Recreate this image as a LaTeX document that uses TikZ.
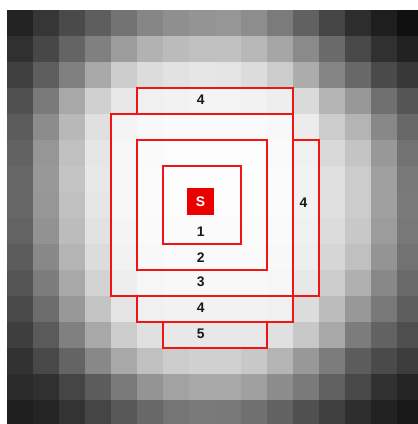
\documentclass[tikz,border=0pt]{standalone}
\usepackage{fontspec}
\setmainfont{Liberation Sans}
\usepackage{tikz}
\usetikzlibrary{positioning}
\definecolor{ringred}{RGB}{240,20,20}
\definecolor{seedred}{RGB}{235,0,0}

\begin{document}
\begin{tikzpicture}[x=0.5cm, y=-0.5cm,
  ring/.style={draw=ringred, line width=0.6pt},
  lbl/.style={font=\fontsize{7.6}{9}\selectfont\bfseries, text=black!90, inner sep=0pt}
]
  \useasboundingbox (-0.269,-0.385) rectangle (15.808,15.923);
  \clip (-0.269,-0.385) rectangle (15.808,15.923);
  %% gray cells, one row of values per list
  \foreach \row [count=\j from 0] in {
    {35,54,74,94,115,134,143,148,150,141,123,97,69,45,30,16},
    {48,71,100,128,156,178,187,192,193,184,166,138,106,72,48,34},
    {64,94,128,168,204,220,226,230,228,220,204,172,132,104,74,56},
    {80,122,168,208,232,240,242,244,244,242,238,218,180,152,112,85},
    {92,140,184,224,244,248,250,250,250,250,248,236,204,180,136,104},
    {98,150,192,230,246,250,252,252,252,252,250,240,216,196,152,114},
    {102,152,196,232,247,251,252,252,252,252,251,242,224,204,160,120},
    {102,150,192,230,246,251,252,252,252,252,251,242,224,204,160,122},
    {99,146,188,226,244,250,251,251,251,251,250,240,220,200,156,120},
    {92,136,180,220,242,248,250,250,250,250,248,238,214,192,148,114},
    {84,124,168,210,238,246,248,248,248,248,246,232,204,176,136,106},
    {74,108,152,196,228,240,242,242,242,242,240,220,188,152,120,94},
    {62,90,128,168,204,224,232,232,232,232,224,200,168,124,98,78},
    {50,72,100,136,168,192,204,208,208,200,180,152,124,92,74,60},
    {42,48,69,92,122,148,162,168,168,160,140,122,96,72,48,37},
    {30,36,51,69,88,104,117,122,120,112,98,80,64,46,34,24}} {
    \foreach \v [count=\i from 0] in \row {
      \definecolor{cellgray}{RGB}{\v,\v,\v}
      \fill[cellgray] (\i,\j) rectangle ++(1,1);
    }
  }
  %% search rings
  \draw[ring] (5,3) rectangle (11,4);
  \draw[ring] (4,4) rectangle (11,11);
  \draw[ring] (11,5) rectangle (12,11);
  \draw[ring] (5,5) rectangle (10,10);
  \draw[ring] (6,6) rectangle (9,9);
  \draw[ring] (5,11) rectangle (11,12);
  \draw[ring] (6,12) rectangle (10,13);
  %% seed cell
  \node[fill=seedred, minimum size=0.52cm, inner sep=0pt, text=white,
        font=\fontsize{7.6}{9}\selectfont\bfseries] (seed) at (7.44,7.38) {S};
  %% ring labels
  \node[lbl] (one)   at (7.45,8.52)  {1};
  \node[lbl] (two)   at (7.45,9.52)  {2};
  \node[lbl] (three) at (7.45,10.45) {3};
  \node[lbl] (fourT) at (7.45,3.46)  {4};
  \node[lbl] (fourR) at (11.4,7.42)  {4};
  \node[lbl] (fourB) at (7.45,11.46) {4};
  \node[lbl] (five)  at (7.45,12.46) {5};
\end{tikzpicture}
\end{document}
